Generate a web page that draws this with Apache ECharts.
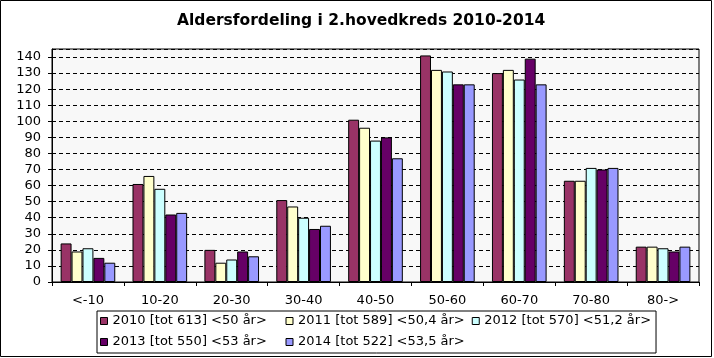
<!DOCTYPE html>
<html>
<head>
<meta charset="utf-8">
<script src="https://cdn.jsdelivr.net/npm/echarts@6/dist/echarts.min.js"></script>
<style>
html,body{margin:0;padding:0;background:#fff;}
#chart{width:714px;height:358px;}
</style>
</head>
<body>
<div id="chart"></div>
<script>
const titleText = 'Aldersfordeling i 2.hovedkreds 2010-2014';
const categories = ['<-10', '10-20', '20-30', '30-40', '40-50', '50-60', '60-70', '70-80', '80->'];
const seriesNames = [
  '2010 [tot 613] <50 år>',
  '2011 [tot 589] <50,4 år>',
  '2012 [tot 570] <51,2 år>',
  '2013 [tot 550] <53 år>',
  '2014 [tot 522] <53,5 år>'
];
const v2010 = [24, 61, 20, 51, 101, 141, 130, 63, 22];
const v2011 = [19, 66, 12, 47, 96, 132, 132, 63, 22];
const v2012 = [21, 58, 14, 40, 88, 131, 126, 71, 21];
const v2013 = [15, 42, 19, 33, 90, 123, 139, 70, 19];
const v2014 = [12, 43, 16, 35, 77, 123, 123, 71, 22];
const seriesValues = [v2010, v2011, v2012, v2013, v2014];
const colors = ['#993366', '#FFFFCC', '#CCFFFF', '#660066', '#9999FF'];
const yMin = 0, yMax = 145, yStep = 10;

const FONT = '"DejaVu Sans", Verdana, sans-serif';
const chart = echarts.init(document.getElementById('chart'), null, {renderer: 'canvas'});
chart.setOption({
  animation: false,
  backgroundColor: '#ffffff',
  color: colors,
  title: {
    text: titleText,
    left: 177,
    top: 13,
    padding: 0,
    textStyle: {fontFamily: FONT, fontSize: 15.5, fontWeight: 'bold', color: '#000'}
  },
  graphic: [{
    type: 'rect',
    shape: {x: 0.5, y: 0.5, width: 711, height: 356},
    style: {fill: 'none', stroke: '#000', lineWidth: 1},
    silent: true,
    z: 100
  }],
  grid: {
    left: 52, right: 15, top: 49, bottom: 76,
    show: true,
    backgroundColor: '#F8F8F8',
    borderColor: '#000',
    borderWidth: 1
  },
  legend: {
    left: 97,
    top: 311,
    width: 552,
    padding: [3, 5, 4, 3],
    itemGap: 7,
    itemWidth: 7,
    itemHeight: 7,
    icon: 'rect',
    borderColor: '#000',
    borderWidth: 1,
    backgroundColor: '#fff',
    itemStyle: {borderColor: '#000', borderWidth: 1},
    textStyle: {fontFamily: FONT, fontSize: 13, color: '#000', width: 166, lineHeight: 14, padding: [0, 0, 0, 0]},
    data: seriesNames
  },
  xAxis: {
    type: 'category',
    data: categories,
    boundaryGap: true,
    axisLine: {show: true, lineStyle: {color: '#000', width: 1}},
    axisTick: {show: true, interval: 0, length: 4, lineStyle: {color: '#000'}},
    axisLabel: {interval: 0, margin: 12, fontFamily: FONT, fontSize: 13, color: '#000'},
    splitLine: {show: false}
  },
  yAxis: {
    type: 'value',
    min: yMin,
    max: yMax,
    interval: yStep,
    axisLine: {show: true, lineStyle: {color: '#000', width: 1}},
    axisTick: {show: true, length: 4, lineStyle: {color: '#000'}},
    axisLabel: {margin: 11, fontFamily: FONT, fontSize: 13, color: '#000', showMaxLabel: false},
    splitLine: {show: true, lineStyle: {color: '#000', width: 1, type: [4, 3]}}
  },
  series: seriesValues.map((vals, i) => ({
    name: seriesNames[i],
    type: 'bar',
    data: vals,
    barGap: '0%',
    barCategoryGap: '24%',
    itemStyle: {color: colors[i], borderColor: '#000', borderWidth: 1}
  }))
});
</script>
</body>
</html>
